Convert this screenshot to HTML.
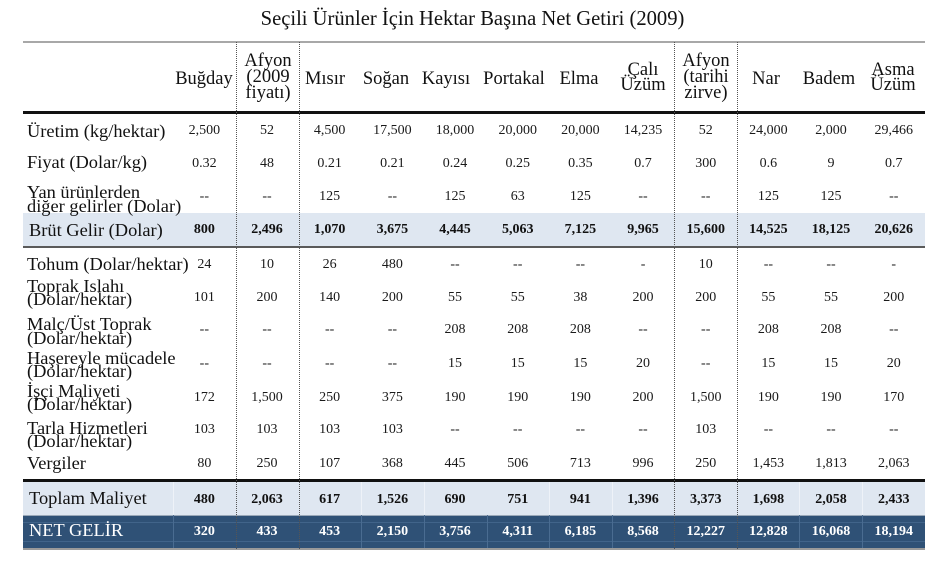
<!DOCTYPE html>
<html><head><meta charset="utf-8">
<style>
*{margin:0;padding:0;box-sizing:border-box}
html,body{width:945px;height:583px;background:#fff;overflow:hidden}
body{position:relative;font-family:"Liberation Serif","DejaVu Serif",serif;color:#111}
.a{position:absolute}
.t{position:absolute;left:0;width:945px;top:6px;text-align:center;font-size:20.6px;line-height:26px;white-space:nowrap}
.h{position:absolute;width:80px;text-align:center;font-size:18.5px;line-height:16px;white-space:nowrap}
.h2{line-height:15px}
.l{position:absolute;left:27px;font-size:18.4px;line-height:18px;white-space:nowrap}
.l2{line-height:13.5px}
.r{position:absolute;left:173px;width:752px;height:16px;display:flex;font-size:14px;line-height:16px;color:#1a1a1a}
.r span{flex:1;text-align:center;white-space:nowrap}
.b{font-weight:bold;color:#111}
.w{color:#fff}
.vd{position:absolute;top:42px;height:507px;width:0;border-left:1px dotted #555}
</style></head><body>
<div class="t">Seçili Ürünler İçin Hektar Başına Net Getiri (2009)</div>

<div class="a" style="left:23px;top:41px;width:902px;height:2px;background:#a8a8a8"></div>
<div class="a" style="left:23px;top:111px;width:902px;height:3px;background:#111"></div>
<div class="a" style="left:23px;top:213px;width:902px;height:33px;background:#dfe7f1"></div>
<div class="a" style="left:23px;top:246px;width:902px;height:2px;background:#5a5a5a"></div>
<div class="a" style="left:23px;top:482px;width:902px;height:33px;background:#dfe7f1"></div>
<div class="a" style="left:23px;top:479px;width:902px;height:3px;background:#111"></div>
<div class="a" style="left:23px;top:515px;width:902px;height:33px;background:#2f5176"></div>
<div class="a" style="left:23px;top:515px;width:902px;height:1px;background:#9aa8b8"></div>
<div class="a" style="left:23px;top:548px;width:902px;height:2px;background:#9a9a9a"></div>
<div class="a" style="left:23px;top:522px;width:902px;height:1px;background:#41648a"></div>
<div class="a" style="left:23px;top:541px;width:902px;height:1px;background:#41648a"></div>

<div class="a" style="left:173px;top:482px;width:1px;height:33px;background:#eef2f8"></div>
<div class="a" style="left:361px;top:482px;width:1px;height:33px;background:#eef2f8"></div>
<div class="a" style="left:424px;top:482px;width:1px;height:33px;background:#eef2f8"></div>
<div class="a" style="left:549px;top:482px;width:1px;height:33px;background:#eef2f8"></div>
<div class="a" style="left:612px;top:482px;width:1px;height:33px;background:#eef2f8"></div>
<div class="a" style="left:799px;top:482px;width:1px;height:33px;background:#eef2f8"></div>
<div class="a" style="left:862px;top:482px;width:1px;height:33px;background:#eef2f8"></div>
<div class="a" style="left:173px;top:515px;width:1px;height:33px;background:#4a6c91"></div>
<div class="a" style="left:361px;top:515px;width:1px;height:33px;background:#4a6c91"></div>
<div class="a" style="left:424px;top:515px;width:1px;height:33px;background:#4a6c91"></div>
<div class="a" style="left:487px;top:515px;width:1px;height:33px;background:#4a6c91"></div>
<div class="a" style="left:549px;top:515px;width:1px;height:33px;background:#4a6c91"></div>
<div class="a" style="left:612px;top:515px;width:1px;height:33px;background:#4a6c91"></div>
<div class="a" style="left:799px;top:515px;width:1px;height:33px;background:#4a6c91"></div>
<div class="a" style="left:862px;top:515px;width:1px;height:33px;background:#4a6c91"></div>

<div class="vd" style="left:236px"></div>
<div class="vd" style="left:299px"></div>
<div class="vd" style="left:674px"></div>
<div class="vd" style="left:737px"></div>

<div class="h" style="left:164px;top:71px">Buğday</div>
<div class="h" style="left:228px;top:52.6px">Afyon<br>(2009<br>fiyatı)</div>
<div class="h" style="left:285px;top:71px">Mısır</div>
<div class="h" style="left:346px;top:71px">Soğan</div>
<div class="h" style="left:406px;top:71px">Kayısı</div>
<div class="h" style="left:474px;top:71px">Portakal</div>
<div class="h" style="left:539px;top:71px">Elma</div>
<div class="h h2" style="left:603px;top:63px">Çalı<br>Üzüm</div>
<div class="h" style="left:666px;top:52.6px">Afyon<br>(tarihi<br>zirve)</div>
<div class="h" style="left:726px;top:71px">Nar</div>
<div class="h" style="left:789px;top:71px">Badem</div>
<div class="h h2" style="left:853px;top:63px">Asma<br>Üzüm</div>

<div class="l" style="top:121.6px">Üretim (kg/hektar)</div>
<div class="l" style="top:153px">Fiyat (Dolar/kg)</div>
<div class="l l2" style="top:186.2px">Yan ürünlerden<br>diğer gelirler (Dolar)</div>
<div class="l" style="top:220.6px;left:29px">Brüt Gelir (Dolar)</div>
<div class="l" style="top:255px">Tohum (Dolar/hektar)</div>
<div class="l l2" style="top:279.9px">Toprak Islahı<br>(Dolar/hektar)</div>
<div class="l l2" style="top:318.2px">Malç/Üst Toprak<br>(Dolar/hektar)</div>
<div class="l l2" style="top:351.5px">Haşereyle mücadele<br>(Dolar/hektar)</div>
<div class="l l2" style="top:384.9px">İşçi Maliyeti<br>(Dolar/hektar)</div>
<div class="l l2" style="top:421.5px">Tarla Hizmetleri<br>(Dolar/hektar)</div>
<div class="l" style="top:454px">Vergiler</div>
<div class="l" style="top:489.2px;left:29px">Toplam Maliyet</div>
<div class="l w" style="top:520.6px;left:29px">NET GELİR</div>

<div class="r" style="top:123.3px"><span>2,500</span><span>52</span><span>4,500</span><span>17,500</span><span>18,000</span><span>20,000</span><span>20,000</span><span>14,235</span><span>52</span><span>24,000</span><span>2,000</span><span>29,466</span></div>
<div class="r" style="top:156.3px"><span>0.32</span><span>48</span><span>0.21</span><span>0.21</span><span>0.24</span><span>0.25</span><span>0.35</span><span>0.7</span><span>300</span><span>0.6</span><span>9</span><span>0.7</span></div>
<div class="r" style="top:189.3px"><span>--</span><span>--</span><span>125</span><span>--</span><span>125</span><span>63</span><span>125</span><span>--</span><span>--</span><span>125</span><span>125</span><span>--</span></div>
<div class="r b" style="top:222.3px"><span>800</span><span>2,496</span><span>1,070</span><span>3,675</span><span>4,445</span><span>5,063</span><span>7,125</span><span>9,965</span><span>15,600</span><span>14,525</span><span>18,125</span><span>20,626</span></div>
<div class="r" style="top:257.3px"><span>24</span><span>10</span><span>26</span><span>480</span><span>--</span><span>--</span><span>--</span><span>-</span><span>10</span><span>--</span><span>--</span><span>-</span></div>
<div class="r" style="top:290px"><span>101</span><span>200</span><span>140</span><span>200</span><span>55</span><span>55</span><span>38</span><span>200</span><span>200</span><span>55</span><span>55</span><span>200</span></div>
<div class="r" style="top:322.3px"><span>--</span><span>--</span><span>--</span><span>--</span><span>208</span><span>208</span><span>208</span><span>--</span><span>--</span><span>208</span><span>208</span><span>--</span></div>
<div class="r" style="top:355.6px"><span>--</span><span>--</span><span>--</span><span>--</span><span>15</span><span>15</span><span>15</span><span>20</span><span>--</span><span>15</span><span>15</span><span>20</span></div>
<div class="r" style="top:389.6px"><span>172</span><span>1,500</span><span>250</span><span>375</span><span>190</span><span>190</span><span>190</span><span>200</span><span>1,500</span><span>190</span><span>190</span><span>170</span></div>
<div class="r" style="top:421.6px"><span>103</span><span>103</span><span>103</span><span>103</span><span>--</span><span>--</span><span>--</span><span>--</span><span>103</span><span>--</span><span>--</span><span>--</span></div>
<div class="r" style="top:455.6px"><span>80</span><span>250</span><span>107</span><span>368</span><span>445</span><span>506</span><span>713</span><span>996</span><span>250</span><span>1,453</span><span>1,813</span><span>2,063</span></div>
<div class="r b" style="top:491.6px"><span>480</span><span>2,063</span><span>617</span><span>1,526</span><span>690</span><span>751</span><span>941</span><span>1,396</span><span>3,373</span><span>1,698</span><span>2,058</span><span>2,433</span></div>
<div class="r b w" style="top:524px;color:#fff"><span>320</span><span>433</span><span>453</span><span>2,150</span><span>3,756</span><span>4,311</span><span>6,185</span><span>8,568</span><span>12,227</span><span>12,828</span><span>16,068</span><span>18,194</span></div>
</body></html>
